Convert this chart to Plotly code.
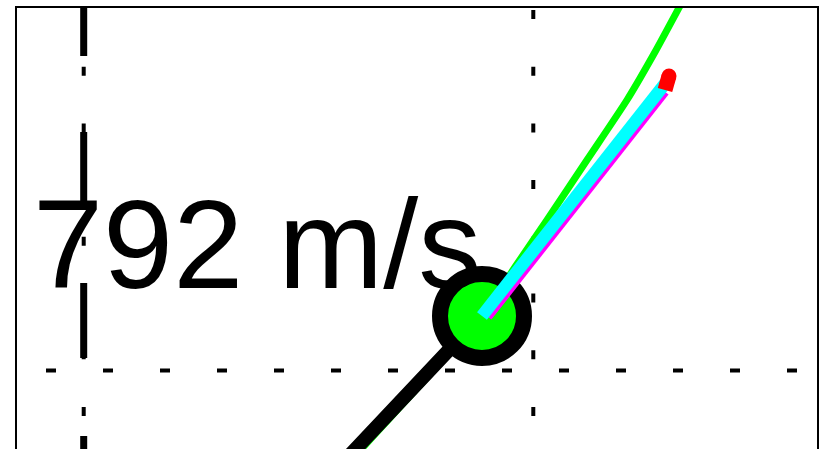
import math
import plotly.graph_objects as go

# Ground track leading up to the current position (heavy black trail)
trail_x = [3.32, 3.60, 3.83, 3.95, 4.10, 4.30, 4.65]
trail_y = [-0.07, 0.24, 0.48, 0.61, 0.77, 0.97, 1.33]

# Full flight path (green), passes through the current position
path_x = [3.38, 3.61, 3.83, 4.26, 4.65, 4.98, 5.30, 5.70, 6.10, 6.38, 6.64]
path_y = [-0.07, 0.18, 0.42, 0.89, 1.33, 1.82, 2.29, 2.89, 3.49, 3.97, 4.45]

# Current position
pos_x, pos_y = 4.65, 1.33

# Vectors in m/s, drawn at a fixed length scale (plot units per m/s)
vec_scale = 0.0038
vel = (490.0, 622.0)          # velocity (cyan), labelled with its magnitude
vel_ground = (466.0, 592.0)   # secondary vector (magenta), tail slightly offset
ground_tail = (4.725, 1.31)

# Red tip marker at the end of the velocity vector
tip_marker_x = [6.48, 6.52]
tip_marker_y = [3.59, 3.73]

# Reference lines
grid_x = [0.667, 5.163]
grid_y = [0.785]
boundary_x = 0.667

speed = math.hypot(*vel)
label = f"{round(speed)} m/s"

fig = go.Figure()

fig.add_trace(go.Scatter(x=path_x, y=path_y, mode="lines",
                         line=dict(color="#00ff00", width=7, shape="spline",
                                   smoothing=0.6)))
fig.add_trace(go.Scatter(x=trail_x, y=trail_y, mode="lines",
                         line=dict(color="black", width=14)))
fig.add_trace(go.Scatter(x=[pos_x], y=[pos_y], mode="markers",
                         marker=dict(size=84, color="#00ff00",
                                     line=dict(color="black", width=16))))

gx1 = ground_tail[0] + vel_ground[0] * vec_scale
gy1 = ground_tail[1] + vel_ground[1] * vec_scale
fig.add_trace(go.Scatter(x=[ground_tail[0], gx1], y=[ground_tail[1], gy1],
                         mode="lines", line=dict(color="#ff00ff", width=5)))

vx1 = pos_x + vel[0] * vec_scale
vy1 = pos_y + vel[1] * vec_scale
fig.add_trace(go.Scatter(x=[pos_x, vx1], y=[pos_y, vy1],
                         mode="lines", line=dict(color="#00ffff", width=12.5)))

fig.add_trace(go.Scatter(x=tip_marker_x, y=tip_marker_y, mode="lines",
                         line=dict(color="#ff0000", width=15)))
fig.add_trace(go.Scatter(x=[tip_marker_x[-1]], y=[tip_marker_y[-1]], mode="markers",
                         marker=dict(size=15, color="#ff0000", line=dict(width=0))))

shapes = []
# thin dotted grid lines
for gx in grid_x:
    shapes.append(dict(type="line", xref="x", yref="y", layer="below",
                       x0=gx, x1=gx, y0=4.39, y1=-0.1,
                       line=dict(color="black", width=4, dash="9px,47.7px")))
for gy in grid_y:
    shapes.append(dict(type="line", xref="x", yref="y", layer="below",
                       x0=0.29, x1=8.0, y0=gy, y1=gy,
                       line=dict(color="black", width=4, dash="10px,47px")))
# heavy dashed boundary line
shapes.append(dict(type="line", xref="x", yref="y", layer="below",
                   x0=boundary_x, x1=boundary_x, y0=4.41, y1=-0.1,
                   line=dict(color="black", width=7,
                             dash="48px,76px,76px,75px,75px,78px,120px,10px")))

fig.add_annotation(x=0.14, y=2.05, xref="x", yref="y", text=label,
                   showarrow=False, xanchor="left", yanchor="middle",
                   font=dict(family="Liberation Sans, Arial, sans-serif",
                             size=126, color="black"))

fig.update_layout(
    width=825, height=449,
    margin=dict(l=17, r=8, t=8, b=0),
    paper_bgcolor="white", plot_bgcolor="white",
    showlegend=False,
    shapes=shapes,
    xaxis=dict(range=[0, 8.0], side="top", showline=True, linecolor="black",
               linewidth=2, mirror=False, showgrid=False, zeroline=False,
               showticklabels=False, ticks=""),
    yaxis=dict(range=[0, 4.41], showline=True, linecolor="black",
               linewidth=2, mirror=True, showgrid=False, zeroline=False,
               showticklabels=False, ticks=""),
)

fig.write_html("out.html")
